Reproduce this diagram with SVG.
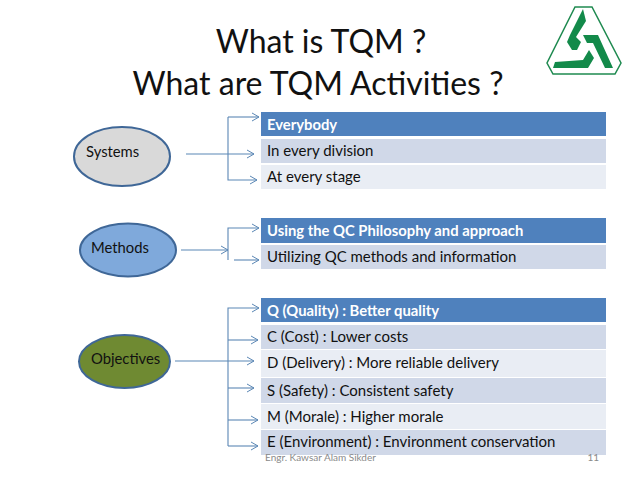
<svg xmlns="http://www.w3.org/2000/svg" width="638" height="479" viewBox="0 0 638 479">
<style>
text{font-family:Lato,"Open Sans","Liberation Sans",sans-serif;fill:#111}
.t{font-size:32px;fill:#111}
.r{font-size:15px;fill:#111}
.h{font-size:14.800px;font-weight:700;fill:#fff}
.n{font-size:14.800px}
.c{fill:none;stroke:#5b87b5;stroke-width:1.1}
.e{stroke:#3f6797;stroke-width:2}
.hd{fill:#4f81bd}.d{fill:#d0d8e8}.l{fill:#e9edf4}
</style>
<defs><marker id="a" markerWidth="9" markerHeight="10" refX="8" refY="5" orient="auto" markerUnits="userSpaceOnUse"><path d="M1 1L8 5L1 9" fill="none" stroke="#5b87b5" stroke-width="1"/></marker></defs>
<rect width="638" height="479" fill="#fff"/>
<g id="title"><text class="t" x="321" y="53" text-anchor="middle">What is TQM ?</text><text class="t" x="318" y="95" text-anchor="middle">What are TQM Activities ?</text></g>
<g id="logo"><path d="M575 7L592 7L621 63L615 74L553 74L547 63Z" fill="#fff" stroke="#1f8a50" stroke-width="1.5"/>
<path d="M583 9L586 21L576 37L581 42L577 50L572 50L567 42L570 35Z" fill="#138a4a"/>
<path d="M583 35L598 35L613 68L605 68L593 43L587 43Z" fill="#138a4a"/>
<path d="M553 68L555 62L583 60L589 50L594 58L588 68Z" fill="#138a4a"/></g>
<g id="connectors">
<path class="c" d="M228 117V180H257" marker-end="url(#a)"/><path class="c" d="M228 117H259" marker-end="url(#a)"/><path class="c" d="M186 154H254" marker-end="url(#a)"/>
<path class="c" d="M181 250H228" marker-end="url(#a)"/><path class="c" d="M228 260V228H259" marker-end="url(#a)"/><path class="c" d="M234 260H259" marker-end="url(#a)"/>
<path class="c" d="M175 361H254" marker-end="url(#a)"/><path class="c" d="M228 446V308H259" marker-end="url(#a)"/><path class="c" d="M228 340H258" marker-end="url(#a)"/><path class="c" d="M228 388H254" marker-end="url(#a)"/><path class="c" d="M228 420H258" marker-end="url(#a)"/><path class="c" d="M228 446H258" marker-end="url(#a)"/>
</g>
<g id="systems"><ellipse class="e" cx="122" cy="156.500" rx="48" ry="29.500" fill="#d9d9d9"/><text class="n" x="86" y="156.500">Systems</text></g>
<g id="methods"><ellipse class="e" cx="128" cy="250" rx="48" ry="26.500" fill="#7fa9db"/><text class="n" x="91" y="252.500">Methods</text></g>
<g id="objectives"><ellipse class="e" cx="124.500" cy="361.500" rx="45.500" ry="26.500" fill="#6f8a32"/><text class="n" x="91" y="364">Objectives</text></g>
<g id="list-systems">
<rect class="hd" x="261" y="112" width="345" height="24"/><text class="h" x="267" y="130">Everybody</text>
<rect class="d" x="261" y="139" width="345" height="24"/><text class="r" x="267" y="156">In every division</text>
<rect class="l" x="261" y="165" width="345" height="24"/><text class="r" x="267" y="182">At every stage</text></g>
<g id="list-methods">
<rect class="hd" x="261" y="218" width="345" height="25"/><text class="h" x="267" y="236">Using the QC Philosophy and approach</text>
<rect class="d" x="261" y="245" width="345" height="24"/><text class="r" x="267" y="262">Utilizing QC methods and information</text></g>
<g id="list-objectives">
<rect class="hd" x="261" y="298" width="345" height="24"/><text class="h" x="267" y="316">Q (Quality) : Better quality</text>
<rect class="d" x="261" y="325" width="345" height="24"/><text class="r" x="267" y="342">C (Cost) : Lower costs</text>
<rect class="l" x="261" y="350" width="345" height="27"/><text class="r" x="267" y="368">D (Delivery) : More reliable delivery</text>
<rect class="d" x="261" y="378" width="345" height="25"/><text class="r" x="267" y="396">S (Safety) : Consistent safety</text>
<rect class="l" x="261" y="404" width="345" height="25"/><text class="r" x="267" y="422">M (Morale) : Higher morale</text>
<rect class="d" x="261" y="430" width="345" height="25"/><text class="r" x="267" y="447">E (Environment) : Environment conservation</text></g>
<g id="footer"><text x="265" y="461" font-size="10" style="fill:#8a8a8a">Engr. Kawsar Alam Sikder</text><text x="599" y="461" font-size="10" text-anchor="end" style="fill:#8a8a8a">11</text></g>
</svg>
